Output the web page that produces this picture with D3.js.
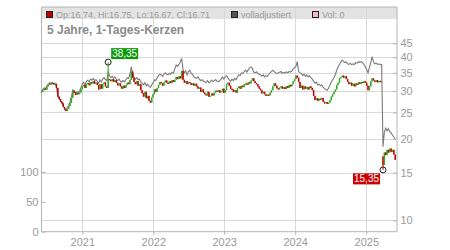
<!DOCTYPE html>
<html><head><meta charset="utf-8">
<script src="https://cdn.jsdelivr.net/npm/d3@7"></script>
<style>
html,body{margin:0;padding:0;background:#fff;}
svg{display:block;font-family:Arial,"Liberation Sans",sans-serif;}
</style></head>
<body><svg id="chart" width="450" height="250"></svg>
<script>
// ---- data (weekly samples, starting 2020-06-05) ----
const startDate = "2020-06-05";
const closes = [
29.8,30.2,30.6,30.4,31.2,31.6,32.0,31.8,32.1,31.7,
31.9,30.8,28.6,28.0,27.4,27.0,26.2,25.6,25.3,25.8,
26.4,27.1,28.3,30.1,29.6,29.0,29.5,29.2,29.6,30.4,
31.2,31.6,30.8,31.9,32.1,31.5,32.4,32.0,32.6,31.9,
32.2,31.6,30.4,31.8,30.6,31.9,32.3,31.2,30.8,33.2,
33.0,32.6,33.2,32.4,32.9,32.2,31.5,32.0,31.2,30.6,
31.4,30.8,31.6,32.2,31.8,33.0,35.4,33.6,32.4,31.8,
32.6,31.4,31.8,30.2,29.4,28.6,29.8,28.2,28.8,27.6,
27.2,28.4,29.2,30.4,29.8,30.8,31.6,32.4,32.0,31.4,
32.3,32.8,32.2,31.9,32.6,32.1,32.9,32.4,33.0,33.8,
33.2,34.0,33.4,35.6,33.0,32.2,32.6,31.8,32.4,32.1,
31.6,32.0,31.4,31.9,31.2,30.6,30.9,29.8,30.4,29.6,
29.2,28.9,29.8,28.6,28.8,29.4,28.9,29.6,30.1,29.8,
30.2,29.6,29.9,30.6,29.5,30.2,31.8,32.2,31.4,30.6,
30.4,29.8,30.2,29.6,30.8,31.2,30.6,31.4,31.0,31.8,
32.0,31.6,32.3,32.0,32.8,33.4,32.6,32.1,31.8,31.2,
30.6,30.2,29.4,29.8,29.2,28.8,29.1,28.9,29.6,30.2,
31.2,32.0,31.4,30.7,30.4,30.9,31.2,30.6,31.0,30.5,
31.3,30.8,31.6,31.2,31.8,32.6,33.2,34.2,33.6,32.4,
30.8,31.4,30.4,31.2,30.6,31.0,30.4,31.2,30.8,30.2,
28.8,27.8,28.2,27.6,28.1,27.9,28.3,27.4,27.0,27.3,
26.9,27.2,27.8,28.6,29.2,29.8,30.4,31.6,32.2,33.4,
33.8,34.2,33.6,34.0,33.2,32.4,31.8,32.2,31.4,31.9,
31.2,32.0,31.6,32.3,31.9,32.4,32.1,32.6,32.2,31.4,
30.2,31.2,32.6,33.4,32.8,32.4,32.9,32.3,32.7,32.4,
32.5,16.0,17.8,17.4,18.2,17.8,18.4,17.9,18.2,17.5,16.71
];
const adjusted = [
30.0,30.4,30.8,30.6,31.4,31.8,32.2,32.0,32.3,31.9,
32.0,31.0,28.8,28.2,27.6,27.2,26.4,25.8,25.5,26.0,
26.6,27.4,28.6,30.3,29.9,29.4,29.8,29.6,30.0,30.9,
31.8,32.3,31.6,32.6,32.9,32.4,33.2,32.9,33.4,32.8,
33.0,32.6,32.0,33.0,32.4,33.2,33.6,33.0,32.8,35.3,
34.2,33.6,34.0,33.4,33.8,33.2,32.8,33.2,32.6,32.4,
32.8,32.5,33.0,33.6,33.4,34.6,36.8,35.0,33.6,33.2,
33.6,33.0,33.2,32.4,32.0,31.6,32.2,31.4,31.8,31.2,
31.0,31.6,32.2,33.0,32.8,33.6,34.2,34.6,34.4,34.0,
34.6,35.0,34.6,34.4,34.9,34.6,35.2,35.0,36.2,37.4,
37.0,37.6,38.4,39.6,36.0,35.0,35.6,34.4,35.4,35.8,
34.8,34.6,33.8,33.6,33.4,33.8,33.2,32.8,33.0,32.6,
32.4,32.3,32.8,32.2,32.4,32.9,32.5,32.8,33.0,32.6,
32.5,32.8,33.2,33.8,33.2,33.8,34.2,33.6,33.0,32.6,
33.2,32.8,33.4,33.0,33.8,34.4,34.2,35.0,34.8,35.4,
35.8,35.2,36.0,36.6,36.8,36.4,35.2,35.0,35.3,34.8,
34.6,34.4,34.0,34.4,33.8,34.2,34.0,34.6,35.0,35.4,
35.8,35.4,35.0,34.8,35.0,35.2,35.4,34.9,35.1,35.0,
35.3,35.0,35.4,35.2,35.6,36.2,36.6,37.0,38.5,35.4,
35.0,34.8,34.2,34.6,34.0,34.4,33.8,34.2,33.6,33.2,
32.6,32.0,32.4,31.6,31.8,31.4,31.6,31.0,30.6,30.4,
30.2,30.8,31.6,32.4,33.0,33.6,34.6,35.8,36.8,37.6,
38.4,39.0,38.6,38.2,38.4,37.8,37.6,38.0,37.5,37.8,
37.6,38.2,38.0,38.5,38.3,38.5,38.2,37.6,36.8,36.0,
35.0,36.6,38.2,40.2,38.4,37.8,38.0,37.6,37.8,37.5,
37.6,18.7,21.2,21.9,21.4,21.8,21.2,21.0,20.6,20.3,20.0
];
// gap opens (index, open) and extreme wicks
const gapOpens = [[251, 17.2]];
const highMarks = [[49, 38.35, "38,35"]];
const lowMarks = [[251, 15.35, "15,35"]];
const priceTicks = [10, 15, 20, 25, 30, 35, 40, 45];
const volumeTicks = [0, 50, 100];
const volumes = []; // Vol: 0
const legendItems = [
  {label: "Op:16.74, Hi:16.75, Lo:16.67, Cl:16.71", color: "#c00000"},
  {label: "volladjustiert", color: "#555555"},
  {label: "Vol: 0", color: "#f2b8c6"}
];
const title = "5 Jahre, 1-Tages-Kerzen";

// ---- layout ----
const L = 41.5, R = 397, T = 7, B = 231.7;
const svg = d3.select("#chart");
const parse = d3.timeParse("%Y-%m-%d");
const t0 = parse(startDate);
const dates = closes.map((_, i) => d3.timeDay.offset(t0, 7 * i));

const x = d3.scaleTime()
  .domain([parse("2020-06-05"), parse("2025-06-08")])
  .range([L, R]);
const y = d3.scaleLog().domain([10, 45]).range([220.3, 43.3]);
const yv = d3.scaleLinear().domain([0, 100]).range([B, 172]);

const gridColor = "#d9d9d9";
const axisColor = "#b4b4b4";
const textColor = "#9a9a9a";

// header band
svg.append("rect").attr("x", L).attr("y", T).attr("width", R - L).attr("height", 12)
  .attr("fill", "#e3e3e3");

// grid
const years = x.ticks(d3.timeYear.every(1));
svg.append("g").selectAll("line").data(years).join("line")
  .attr("x1", d => Math.round(x(d)) + 0.5).attr("x2", d => Math.round(x(d)) + 0.5)
  .attr("y1", T).attr("y2", B)
  .attr("stroke", gridColor).attr("stroke-width", 1);
svg.append("g").selectAll("line").data(priceTicks).join("line")
  .attr("x1", L).attr("x2", R)
  .attr("y1", d => Math.round(y(d)) + 0.5).attr("y2", d => Math.round(y(d)) + 0.5)
  .attr("stroke", gridColor).attr("stroke-width", 1);

// frame
svg.append("path")
  .attr("d", `M${L},${B}V${T}H${R}V${B}Z`)
  .attr("fill", "none").attr("stroke", axisColor).attr("stroke-width", 1);

// adjusted line
const line = d3.line().x((d, i) => x(dates[i])).y(d => y(d));
svg.append("path").datum(adjusted)
  .attr("d", line).attr("fill", "none").attr("stroke", "#7a7a7a").attr("stroke-width", 1.1);

// candles
const gapMap = new Map(gapOpens);
const candles = closes.map((c, i) => {
  const o = gapMap.has(i) ? gapMap.get(i) : (i === 0 ? c : closes[i - 1]);
  let hi = Math.max(o, c), lo = Math.min(o, c);
  highMarks.forEach(h => { if (h[0] === i) hi = h[1]; });
  lowMarks.forEach(h => { if (h[0] === i) lo = h[1]; });
  return {d: dates[i], o, c, hi, lo};
});
const cg = svg.append("g");
cg.selectAll("line.wick").data(candles).join("line")
  .attr("x1", d => x(d.d)).attr("x2", d => x(d.d))
  .attr("y1", d => y(d.hi)).attr("y2", d => y(d.lo))
  .attr("stroke", d => d.c >= d.o ? "#33a822" : "#c40000").attr("stroke-width", 1);
cg.selectAll("rect").data(candles).join("rect")
  .attr("x", d => x(d.d) - 0.7)
  .attr("width", 1.4)
  .attr("y", d => y(Math.max(d.o, d.c)))
  .attr("height", d => Math.max(1.2, y(Math.min(d.o, d.c)) - y(Math.max(d.o, d.c))))
  .attr("fill", d => d.c >= d.o ? "#33a822" : "#c40000");

// markers
function marker(i, v, label, color, above) {
  const cx = x(dates[i]), cy = y(v);
  svg.append("circle").attr("cx", cx).attr("cy", cy).attr("r", 3)
    .attr("fill", "none").attr("stroke", "#222").attr("stroke-width", 1);
  const w = 27, h = 11;
  const bx = above ? cx + 3 : cx - 3 - w;
  const by = above ? cy - 14 : cy + 3.5;
  svg.append("rect").attr("x", bx).attr("y", by).attr("width", w).attr("height", h).attr("fill", color);
  svg.append("text").attr("x", bx + w / 2).attr("y", by + 9)
    .attr("text-anchor", "middle").attr("font-size", 10).attr("fill", "#fff").text(label);
}
highMarks.forEach(m => marker(m[0], m[1], m[2], "#0a990a", true));
lowMarks.forEach(m => marker(m[0], m[1], m[2], "#cc0000", false));

// axes
const styleAxis = g => {
  g.select(".domain").remove();
  g.selectAll(".tick line").attr("stroke", axisColor);
  g.selectAll(".tick text").attr("fill", textColor).attr("font-size", 11)
    .attr("font-family", "Arial, 'Liberation Sans', sans-serif");
};
svg.append("g").attr("transform", `translate(${R},0)`)
  .call(d3.axisRight(y).tickValues(priceTicks).tickFormat(d3.format("d")).tickSize(-4).tickPadding(3.5))
  .call(styleAxis);
svg.append("g").attr("transform", `translate(${L},0)`)
  .call(d3.axisLeft(yv).tickValues(volumeTicks).tickSize(-4).tickPadding(3))
  .call(styleAxis);
svg.append("g").attr("transform", `translate(0,${B})`)
  .call(d3.axisBottom(x).ticks(d3.timeYear.every(1)).tickFormat(d3.timeFormat("%Y")).tickSize(3).tickPadding(4))
  .call(styleAxis);

// legend header
const legendX = [46, 231, 312];
legendItems.forEach((it, i) => {
  svg.append("rect").attr("x", legendX[i] + 0.5).attr("y", 11.5).attr("width", 6).attr("height", 6)
    .attr("fill", it.color).attr("stroke", "#222").attr("stroke-width", 1);
  svg.append("text").attr("x", legendX[i] + 10).attr("y", 17.5)
    .attr("font-size", 9).attr("fill", textColor).text(it.label);
});

// title
svg.append("text").attr("x", 47).attr("y", 34).attr("font-size", 12).attr("font-weight", "bold")
  .attr("fill", "#8a8a8a").text(title);
</script>
</body></html>
